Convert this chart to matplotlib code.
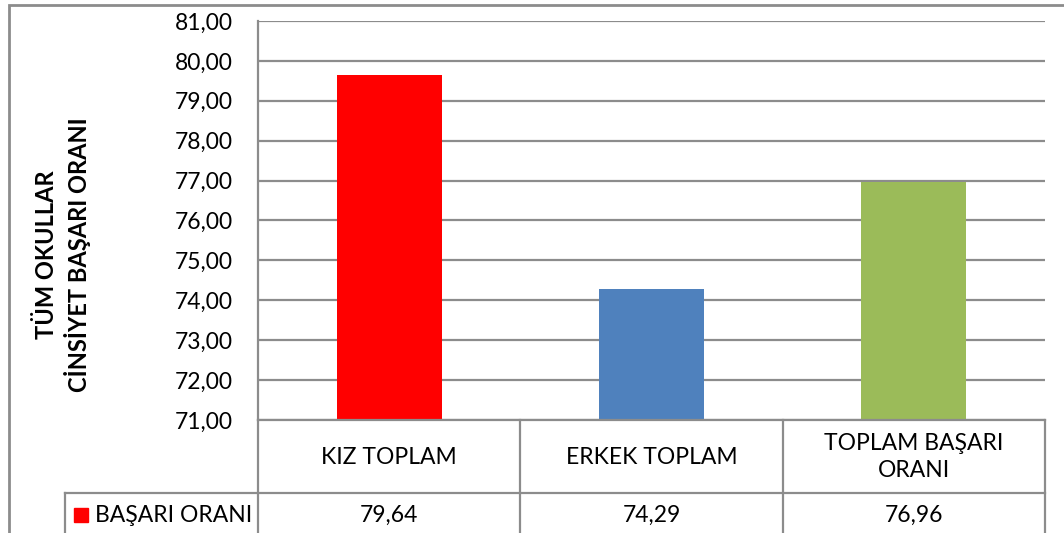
import matplotlib.pyplot as plt
from matplotlib.patches import Rectangle
from matplotlib.lines import Line2D

categories = ["KIZ TOPLAM", "ERKEK TOPLAM", "TOPLAM BAŞARI\nORANI"]
values = [79.64, 74.29, 76.96]
value_labels = ["79,64", "74,29", "76,96"]
colors = ["#FF0000", "#4F81BD", "#9BBB59"]
series_name = "BAŞARI ORANI"
y_ticks = [71, 72, 73, 74, 75, 76, 77, 78, 79, 80, 81]
y_title = "TÜM OKULLAR\nCİNSİYET BAŞARI ORANI"

plt.rcParams["font.family"] = ["Lato", "DejaVu Sans"]

W, H = 1064, 533
fig = plt.figure(figsize=(W / 100, H / 100), dpi=100)
grey = "#8C8C8C"


def fx(x):
    return x / W


def fy(y):
    return 1 - y / H


# plot area in pixel coordinates
left, right, top, bottom = 258, 1045, 21, 420
ax = fig.add_axes([fx(left), fy(bottom), fx(right) - fx(left), fy(top) - fy(bottom)])

xs = list(range(len(categories)))
ax.bar(xs, [v - y_ticks[0] for v in values], bottom=y_ticks[0], width=0.4,
       color=colors, zorder=3)
ax.set_xlim(-0.5, len(categories) - 0.5)
ax.set_ylim(y_ticks[0], y_ticks[-1])
ax.set_yticks(y_ticks)
ax.set_yticklabels([f"{t:.2f}".replace(".", ",") for t in y_ticks], fontsize=16.5)
ax.tick_params(axis="y", length=0, pad=18)
ax.set_xticks([])
ax.grid(axis="y", color=grey, linewidth=1.6, zorder=0)
for side in ["top", "right", "bottom"]:
    ax.spines[side].set_visible(False)
ax.spines["left"].set_color(grey)
ax.spines["left"].set_linewidth(1.6)

fig.text(fx(63), fy(255), y_title, rotation=90, ha="center", va="center",
         fontsize=17, fontweight="bold", linespacing=1.3)

# data table below the plot
row_mid = 493
col_edges = [258, 520, 783, 1045]


def hline(y, x0, x1):
    fig.add_artist(Line2D([fx(x0), fx(x1)], [fy(y), fy(y)], color=grey, linewidth=1.6))


def vline(x, y0, y1):
    fig.add_artist(Line2D([fx(x), fx(x)], [fy(y0), fy(y1)], color=grey, linewidth=1.6))


hline(bottom, left, right)
hline(row_mid, 65, right)
for x in col_edges:
    vline(x, bottom, H + 5)
vline(65, row_mid, H + 5)

for i, (cat, lab) in enumerate(zip(categories, value_labels)):
    cx = (col_edges[i] + col_edges[i + 1]) / 2
    fig.text(fx(cx), fy(457), cat, ha="center", va="center", fontsize=16.5,
             linespacing=1.3)
    fig.text(fx(cx), fy(515), lab, ha="center", va="center", fontsize=16.5)

fig.add_artist(Rectangle((fx(74), fy(522)), fx(14), fy(508) - fy(522),
                         color=colors[0], transform=fig.transFigure))
fig.text(fx(95), fy(515), series_name, ha="left", va="center", fontsize=16.5)

# outer chart border
fig.add_artist(Rectangle((fx(9), fy(H + 10)), fx(W + 20), fy(5) - fy(H + 10),
                         fill=False, edgecolor=grey, linewidth=2,
                         transform=fig.transFigure))

fig.savefig("out.png", dpi=100)
